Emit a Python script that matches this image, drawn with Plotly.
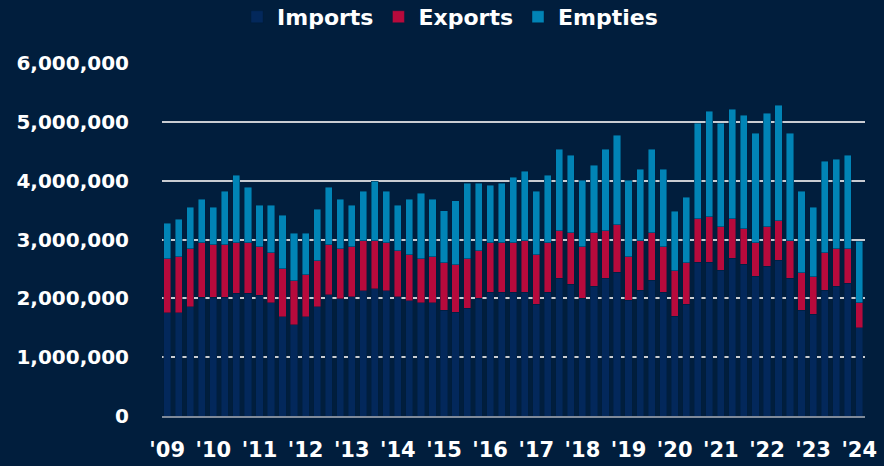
import plotly.graph_objects as go

quarters = [f"{y} Q{q}" for y in range(2009, 2024) for q in range(1, 5)] + ["2024 Q1"]
tick_labels = ["'09", "'10", "'11", "'12", "'13", "'14", "'15", "'16",
               "'17", "'18", "'19", "'20", "'21", "'22", "'23", "'24"]

imports = [1751, 1751, 1853, 2017, 2017, 2017, 2085, 2085, 2051, 1921, 1683, 1547,
           1683, 1853, 2057, 1989, 2023, 2125, 2159, 2125, 2023, 1955, 1921, 1921,
           1799, 1765, 1833, 2003, 2105, 2105, 2105, 2105, 1901, 2105, 2343, 2241,
           2003, 2207, 2343, 2445, 1969, 2139, 2309, 2105, 1697, 1901, 2615, 2615,
           2479, 2683, 2581, 2377, 2547, 2649, 2343, 1799, 1731, 2139, 2207, 2259,
           1499]
exports = [918, 952, 986, 924, 890, 890, 856, 856, 822, 850, 816, 748,
           714, 782, 850, 850, 850, 850, 816, 816, 782, 782, 748, 782,
           810, 810, 844, 810, 844, 844, 844, 878, 844, 844, 810, 878,
           878, 912, 810, 810, 742, 844, 810, 776, 776, 708, 742, 776,
           742, 674, 606, 572, 674, 674, 640, 640, 640, 640, 640, 588,
           430]
empties = [606, 640, 708, 742, 640, 912, 1150, 946, 708, 810, 912, 810,
           708, 878, 980, 844, 708, 844, 1014, 878, 776, 946, 1116, 980,
           878, 1082, 1281, 1145, 975, 1009, 1110, 1178, 1077, 1144, 1382, 1314,
           1122, 1144, 1382, 1518, 1292, 1212, 1416, 1314, 1009, 1111, 1620, 1790,
           1756, 1858, 1926, 1858, 1926, 1960, 1824, 1383, 1179, 1552, 1518, 1586,
           1043]
y_ticks = [0, 1000000, 2000000, 3000000, 4000000, 5000000, 6000000]
y_tick_labels = ["0", "1,000,000", "2,000,000", "3,000,000", "4,000,000", "5,000,000", "6,000,000"]

BG = "#011e3d"
FONT = "DejaVu Sans"

fig = go.Figure()
series = [("Imports", imports, "#03285b"),
          ("Exports", exports, "#b70a3c"),
          ("Empties", empties, "#0184b6")]
for name, vals, col in series:
    fig.add_trace(go.Bar(
        x=quarters, y=[v * 1000 for v in vals], name=name,
        marker=dict(color=col, line=dict(color="rgba(0,30,60,0.55)", width=0.8)),
    ))

fig.update_layout(
    barmode="stack",
    bargap=0.38,
    width=884, height=466,
    paper_bgcolor=BG, plot_bgcolor=BG,
    margin=dict(l=162, r=19, t=63, b=50, autoexpand=False),
    font=dict(family=FONT, color="white", size=20),
    showlegend=True,
    legend=dict(orientation="h", xref="paper", yref="paper",
                x=0.4097, xanchor="center", y=1.19, yanchor="top",
                font=dict(family=FONT, size=22, color="white", weight="bold"),
                bgcolor="rgba(0,0,0,0)", traceorder="normal",
                itemclick=False),
)
fig.update_xaxes(
    type="category",
    range=[-0.45, 60.5],
    tickmode="array",
    tickvals=quarters[::4],
    ticktext=tick_labels,
    tickfont=dict(family=FONT, size=21, color="white", weight="bold"),
    ticks="outside", ticklen=14, tickcolor="rgba(0,0,0,0)",
    showgrid=False, automargin=False,
    showline=True, linecolor="#7f8a99", linewidth=2,
)
fig.update_yaxes(
    range=[0, 6000000],
    tickmode="array",
    tickvals=y_ticks,
    ticktext=y_tick_labels,
    tickfont=dict(family=FONT, size=20, color="white", weight="bold"),
    ticks="outside", ticklen=28, tickcolor="rgba(0,0,0,0)",
    showgrid=True, gridcolor="#c9ccd2", gridwidth=1.5,
    zeroline=False, automargin=False,
)

fig.write_html(
    "out.html",
    config={"displayModeBar": False},
    post_script="document.body.style.margin='0';document.body.style.padding='0';"
                "document.body.style.background='" + BG + "';",
)
